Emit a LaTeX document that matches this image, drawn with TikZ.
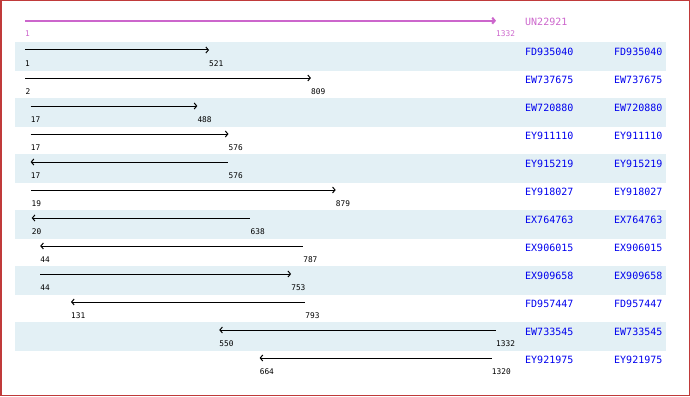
\documentclass[tikz,border=0pt]{standalone}
\usepackage{fontspec}
\setmonofont{DejaVu Sans Mono}
\usepackage{xcolor}
\usepackage{tikz}
\usetikzlibrary{arrows.meta}

\definecolor{bandblue}{HTML}{E3F0F5}
\definecolor{hitblue}{HTML}{0000EE}
\definecolor{querypink}{HTML}{CC66CC}
\definecolor{framered}{HTML}{C03A3A}

\begin{document}
\begin{tikzpicture}[x=1pt, y=-1pt, >={Straight Barb[length=2.5pt,width=6pt]},
		band/.style={fill=bandblue, draw=none},
		hit/.style={line width=1pt, black},
		coord/.style={anchor=west, inner sep=0pt, font=\fontsize{7.8}{8}\selectfont\ttfamily},
		acc/.style={anchor=west, inner sep=0pt, text=hitblue, font=\fontsize{10}{11}\selectfont\ttfamily}]
			\useasboundingbox (0,0) rectangle (690,396);
			\draw[framered, line width=1.5pt] (0.75,0.75) rectangle (689.25,395.25);

			% shaded rows
			\fill[band] (15,42) rectangle (665.7,70.7);
			\fill[band] (15,98) rectangle (665.7,126.7);
			\fill[band] (15,154) rectangle (665.7,182.7);
			\fill[band] (15,210) rectangle (665.7,238.7);
			\fill[band] (15,266) rectangle (665.7,294.7);
			\fill[band] (15,322) rectangle (665.7,350.7);

			% positions along the query, 1..1332
			\begin{scope}[x=0.35387pt, xshift=24.646pt]
			\coordinate (q0) at (1,20.7);
			\coordinate (q1) at (1332,20.7);
			\node[coord, text=querypink] (qs) at (1,34) {1};
			\node[coord, text=querypink] (qe) at (1332,34) {1332};

			\coordinate (a1) at (1,50);    \coordinate (b1) at (521,50);
			\coordinate (a2) at (2,78);    \coordinate (b2) at (809,78);
			\coordinate (a3) at (17,106);  \coordinate (b3) at (488,106);
			\coordinate (a4) at (17,134);  \coordinate (b4) at (576,134);
			\coordinate (a5) at (17,162);  \coordinate (b5) at (576,162);
			\coordinate (a6) at (19,190);  \coordinate (b6) at (879,190);
			\coordinate (a7) at (20,218);  \coordinate (b7) at (638,218);
			\coordinate (a8) at (44,246);  \coordinate (b8) at (787,246);
			\coordinate (a9) at (44,274);  \coordinate (b9) at (753,274);
			\coordinate (a10) at (131,302); \coordinate (b10) at (793,302);
			\coordinate (a11) at (550,330); \coordinate (b11) at (1332,330);
			\coordinate (a12) at (664,358); \coordinate (b12) at (1320,358);

			\node[coord] (sa1) at (1,64) {1};       \node[coord] (sb1) at (521,64) {521};
			\node[coord] (sa2) at (2,92) {2};       \node[coord] (sb2) at (809,92) {809};
			\node[coord] (sa3) at (17,120) {17};    \node[coord] (sb3) at (488,120) {488};
			\node[coord] (sa4) at (17,148) {17};    \node[coord] (sb4) at (576,148) {576};
			\node[coord] (sa5) at (17,176) {17};    \node[coord] (sb5) at (576,176) {576};
			\node[coord] (sa6) at (19,204) {19};    \node[coord] (sb6) at (879,204) {879};
			\node[coord] (sa7) at (20,232) {20};    \node[coord] (sb7) at (638,232) {638};
			\node[coord] (sa8) at (44,260) {44};    \node[coord] (sb8) at (787,260) {787};
			\node[coord] (sa9) at (44,288) {44};    \node[coord] (sb9) at (753,288) {753};
			\node[coord] (sa10) at (131,316) {131}; \node[coord] (sb10) at (793,316) {793};
			\node[coord] (sa11) at (550,344) {550}; \node[coord] (sb11) at (1332,344) {1332};
			\node[coord] (sa12) at (664,372) {664}; \node[coord] (sb12) at (1320,372) {1320};
			\end{scope}

			\node[acc, text=querypink] (un) at (525,22) {UN22921};
			\node[acc] (h1) at (525,51.5) {FD935040};  \node[acc] (g1) at (614,51.5) {FD935040};
			\node[acc] (h2) at (525,79.5) {EW737675};  \node[acc] (g2) at (614,79.5) {EW737675};
			\node[acc] (h3) at (525,107.5) {EW720880}; \node[acc] (g3) at (614,107.5) {EW720880};
			\node[acc] (h4) at (525,135.5) {EY911110}; \node[acc] (g4) at (614,135.5) {EY911110};
			\node[acc] (h5) at (525,163.5) {EY915219}; \node[acc] (g5) at (614,163.5) {EY915219};
			\node[acc] (h6) at (525,191.5) {EY918027}; \node[acc] (g6) at (614,191.5) {EY918027};
			\node[acc] (h7) at (525,219.5) {EX764763}; \node[acc] (g7) at (614,219.5) {EX764763};
			\node[acc] (h8) at (525,247.5) {EX906015}; \node[acc] (g8) at (614,247.5) {EX906015};
			\node[acc] (h9) at (525,275.5) {EX909658}; \node[acc] (g9) at (614,275.5) {EX909658};
			\node[acc] (h10) at (525,303.5) {FD957447}; \node[acc] (g10) at (614,303.5) {FD957447};
			\node[acc] (h11) at (525,331.5) {EW733545}; \node[acc] (g11) at (614,331.5) {EW733545};
			\node[acc] (h12) at (525,359.5) {EY921975}; \node[acc] (g12) at (614,359.5) {EY921975};

			\path
			(q0) edge[->, querypink, line width=2pt] (q1)
			(a1) edge[hit, ->] (b1)
			(a2) edge[hit, ->] (b2)
			(a3) edge[hit, ->] (b3)
			(a4) edge[hit, ->] (b4)
			(a5) edge[hit, <-] (b5)
			(a6) edge[hit, ->] (b6)
			(a7) edge[hit, <-] (b7)
			(a8) edge[hit, <-] (b8)
			(a9) edge[hit, ->] (b9)
			(a10) edge[hit, <-] (b10)
			(a11) edge[hit, <-] (b11)
			(a12) edge[hit, <-] (b12);
		\end{tikzpicture}
\end{document}
